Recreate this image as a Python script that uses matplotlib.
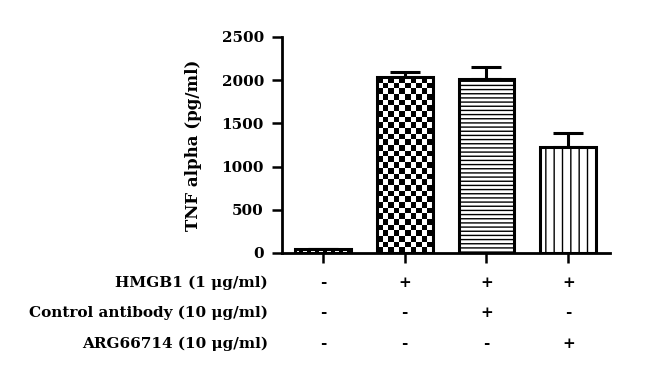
import numpy as np
import matplotlib
matplotlib.use("Agg")
import matplotlib.pyplot as plt
import matplotlib.transforms as mtransforms

# ---- data ----
groups = ["G1", "G2", "G3", "G4"]
values = [50, 2035, 2010, 1225]
errors_up = [0, 60, 145, 165]
row_labels = ["HMGB1 (1 \u03bcg/ml)", "Control antibody (10 \u03bcg/ml)", "ARG66714 (10 \u03bcg/ml)"]
row_signs = [["-", "+", "+", "+"],
             ["-", "-", "+", "-"],
             ["-", "-", "-", "+"]]
yticks = [0, 500, 1000, 1500, 2000, 2500]
ylabel = "TNF alpha (pg/ml)"

plt.rcParams['font.family'] = ['DejaVu Serif']
plt.rcParams['font.weight'] = 'bold'
plt.rcParams['hatch.linewidth'] = 1.0

FS = 11

fig = plt.figure(figsize=(6.51, 3.85), dpi=100)
ax = fig.add_axes([282/651, 1-253/385, (610-282)/651, (253-37)/385])

x = np.arange(len(groups))
fills = ["checker_small", "checker", "----", "||"]
bars = ax.bar(x, values, width=0.68, color="white", edgecolor="black", linewidth=2.2, zorder=2)
for b, f in zip(bars, fills):
    if f.startswith("checker"):
        b.set_facecolor("none")
        bx, by = b.get_x(), b.get_y()
        bw, bh = b.get_width(), b.get_height()
        if f == "checker_small":
            ncols, nrows = 14, 2
        else:
            ncols = 10
            nrows = int(round(ncols * (bh / 2500 * 216) / 56))
        img = (np.indices((nrows, ncols)).sum(axis=0) % 2)
        im = ax.imshow(img, cmap="gray", extent=(bx, bx + bw, by, by + bh),
                       aspect="auto", interpolation="nearest", zorder=1.8)
        im.set_clip_path(b)
    else:
        b.set_hatch(f)

ax.errorbar(x, values, yerr=[np.zeros(len(values)), errors_up], fmt="none",
            ecolor="black", elinewidth=2.2, capsize=11, capthick=2.2, zorder=1)

ax.set_xlim(-0.5, 3.51)
ax.set_ylim(0, 2500)
ax.set_yticks(yticks)
ax.set_yticklabels([str(t) for t in yticks], fontsize=FS, fontweight="bold")
ax.set_xticks(x)
ax.set_xticklabels([])
ax.tick_params(axis="both", direction="out", length=7, width=1.8, pad=6)
ax.spines["top"].set_visible(False)
ax.spines["right"].set_visible(False)
ax.spines["left"].set_linewidth(2)
ax.spines["bottom"].set_linewidth(2)
ax.set_ylabel(ylabel, fontsize=12, fontweight="bold", labelpad=14)

trans = mtransforms.blended_transform_factory(ax.transData, fig.transFigure)
row_y = [1-283/385, 1-313/385, 1-344/385]
for lab, signs, yy in zip(row_labels, row_signs, row_y):
    fig.text(268/651, yy, lab, ha="right", va="center", fontsize=FS, fontweight="bold")
    for xi, s in zip(x, signs):
        ax.text(xi, yy, s, transform=trans, ha="center", va="center",
                fontsize=FS, fontweight="bold", clip_on=False)

fig.savefig("out.png", dpi=100)
